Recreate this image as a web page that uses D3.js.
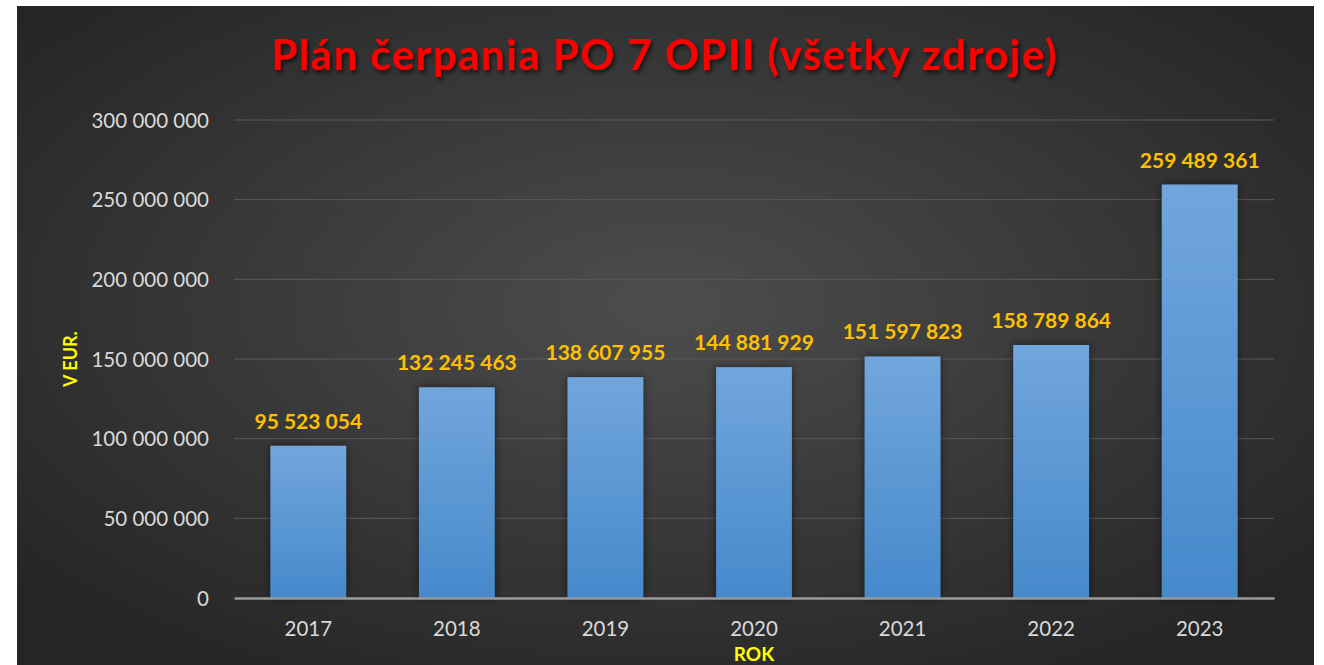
<!DOCTYPE html>
<html>
<head>
<meta charset="utf-8">
<script src="https://cdn.jsdelivr.net/npm/d3@7/dist/d3.min.js"></script>
<style>
  body { margin: 0; background: #ffffff; }
  svg text { font-family: Lato, "Open Sans", sans-serif; }
</style>
</head>
<body>
<div id="chart"></div>
<script>
// data
const years = ["2017", "2018", "2019", "2020", "2021", "2022", "2023"];
const amounts = [95523054, 132245463, 138607955, 144881929, 151597823, 158789864, 259489361];
const yTicks = [0, 50000000, 100000000, 150000000, 200000000, 250000000, 300000000];

const W = 1324, H = 665;
const panel = { x: 17, y: 6, w: 1297, h: 665 };
const plot = { left: 234, right: 1274, top: 120, bottom: 598 };

const fmt = v => d3.format(",")(v).replace(/,/g, " ");

const svg = d3.select("#chart").append("svg")
  .attr("width", W).attr("height", H);

const defs = svg.append("defs");

const bg = defs.append("radialGradient").attr("id", "bg")
  .attr("cx", "50%").attr("cy", "45%").attr("r", "65%");
bg.append("stop").attr("offset", "0%").attr("stop-color", "#4d4d4d");
bg.append("stop").attr("offset", "100%").attr("stop-color", "#252525");

const barGrad = defs.append("linearGradient").attr("id", "barGrad")
  .attr("x1", 0).attr("y1", 0).attr("x2", 0).attr("y2", 1);
barGrad.append("stop").attr("offset", "0%").attr("stop-color", "#71a6dd");
barGrad.append("stop").attr("offset", "100%").attr("stop-color", "#4689cb");

const shadow = defs.append("filter").attr("id", "barShadow")
  .attr("x", "-20%").attr("y", "-20%").attr("width", "140%").attr("height", "140%");
shadow.append("feDropShadow").attr("dx", 0).attr("dy", 0)
  .attr("stdDeviation", 4).attr("flood-color", "#000").attr("flood-opacity", 0.55);

const tShadow = defs.append("filter").attr("id", "titleShadow")
  .attr("x", "-5%").attr("y", "-20%").attr("width", "110%").attr("height", "150%");
tShadow.append("feDropShadow").attr("dx", 2).attr("dy", 3)
  .attr("stdDeviation", 2).attr("flood-color", "#000").attr("flood-opacity", 0.6);

// background panel
svg.append("rect")
  .attr("x", panel.x).attr("y", panel.y)
  .attr("width", panel.w).attr("height", panel.h)
  .attr("fill", "url(#bg)");

// scales
const x = d3.scaleBand()
  .domain(years)
  .range([plot.left, plot.right])
  .paddingInner(0.49).paddingOuter(0.245);

const y = d3.scaleLinear()
  .domain([0, 300000000])
  .range([plot.bottom, plot.top]);

// gridlines
svg.append("g")
  .selectAll("line")
  .data(yTicks.filter(d => d > 0))
  .join("line")
  .attr("x1", plot.left).attr("x2", plot.right)
  .attr("y1", d => y(d)).attr("y2", d => y(d))
  .attr("stroke", "#5a5a5a").attr("stroke-width", 1);

// y axis labels
const yAxis = svg.append("g")
  .attr("transform", `translate(${plot.left - 22},0)`)
  .call(d3.axisLeft(y).tickValues(yTicks).tickFormat(fmt).tickSize(0));
yAxis.select(".domain").remove();
yAxis.selectAll("text")
  .attr("fill", "#d9d9d9").attr("font-size", 20.5).attr("dy", "0.35em");

// bars
const data = years.map((yr, i) => ({ year: yr, value: amounts[i] }));

svg.append("g")
  .selectAll("rect")
  .data(data)
  .join("rect")
  .attr("x", d => x(d.year))
  .attr("y", d => y(d.value))
  .attr("width", x.bandwidth())
  .attr("height", d => y(0) - y(d.value))
  .attr("fill", "url(#barGrad)")
  .attr("filter", "url(#barShadow)");

// x axis
const xAxis = svg.append("g")
  .attr("transform", `translate(0,${plot.bottom})`)
  .call(d3.axisBottom(x).tickSize(0).tickPadding(23));
xAxis.select(".domain").attr("stroke", "#9a9a9a").attr("stroke-width", 2.5);
xAxis.selectAll("text").attr("fill", "#d9d9d9").attr("font-size", 20.5);

// value labels
svg.append("g")
  .selectAll("text")
  .data(data)
  .join("text")
  .attr("x", d => x(d.year) + x.bandwidth() / 2)
  .attr("y", d => y(d.value) - 17)
  .attr("text-anchor", "middle")
  .attr("fill", "#ffc000")
  .attr("font-size", 21)
  .attr("font-weight", "bold")
  .text(d => fmt(d.value));

// title
svg.append("text")
  .attr("x", 664).attr("y", 70)
  .attr("text-anchor", "middle")
  .attr("fill", "#ff0000")
  .attr("font-size", 42)
  .attr("font-weight", "bold")
  .attr("textLength", 785)
  .attr("lengthAdjust", "spacing")
  .attr("filter", "url(#titleShadow)")
  .text("Plán čerpania PO 7 OPII (všetky zdroje)");

// axis titles
svg.append("text")
  .attr("transform", `translate(77,${(plot.top + plot.bottom) / 2}) rotate(-90)`)
  .attr("text-anchor", "middle")
  .attr("fill", "#ffff00")
  .attr("font-size", 18)
  .attr("font-weight", "bold")
  .text("V EUR.");

svg.append("text")
  .attr("x", (plot.left + plot.right) / 2).attr("y", 661)
  .attr("text-anchor", "middle")
  .attr("fill", "#ffff00")
  .attr("font-size", 19)
  .attr("font-weight", "bold")
  .text("ROK");
</script>
</body>
</html>
